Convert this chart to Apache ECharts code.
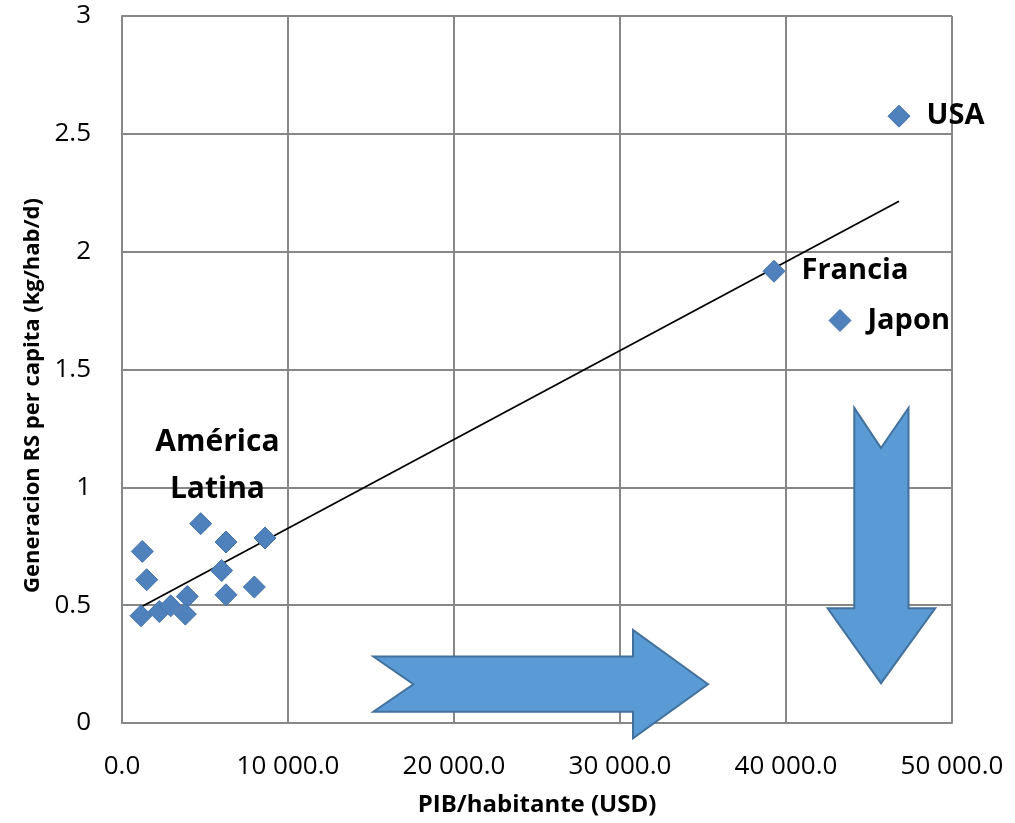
<!DOCTYPE html>
<html><head><meta charset="utf-8">
<script src="https://cdn.jsdelivr.net/npm/echarts@6/dist/echarts.min.js"></script>
<style>html,body{margin:0;padding:0;background:#fff}#c{width:1015px;height:823px}</style>
</head><body><div id="c"></div>
<script>
// GDP per capita (USD) and MSW generation (kg/hab/d)
const gdp = [1223, 1486, 1145, 2249, 2932, 3936, 3815, 4739, 6265, 6004, 6265, 7972, 8614, 46807, 39277, 43253];
const waste = [0.728, 0.608, 0.455, 0.473, 0.497, 0.537, 0.462, 0.846, 0.768, 0.647, 0.544, 0.577, 0.785, 2.575, 1.917, 1.708];
const countryLabels = ['', '', '', '', '', '', '', '', '', '', '', '', '', 'USA', 'Francia', 'Japon'];
const trendX = [1145, 46807];
const trendY = [0.492, 2.214];
const regionLabel = 'América\nLatina';
const regionPos = [5750, 1.09];
const xName = 'PIB/habitante (USD)';
const yName = 'Generacion RS per capita (kg/hab/d)';
// decorative arrows (data coordinates)
const rightArrow = [[15145,0.2817],[30783,0.2817],[30783,0.395],[35301,0.1644],[30783,-0.065],[30783,0.048],[15145,0.048],[17554,0.1644]];
const downArrow = [[44114,1.337],[45723,1.167],[47380,1.337],[47380,0.487],[48988,0.487],[45723,0.169],[42506,0.487],[44114,0.487]];

const FONT = 'Open Sans';
function fmtX(v){
  const s = v.toFixed(1);
  const parts = s.split('.');
  return parts[0].replace(/\B(?=(\d{3})+(?!\d))/g, ' ') + '.' + parts[1];
}
const pts = gdp.map((g,i)=>({value:[g, waste[i]], name: countryLabels[i]}));

const chart = echarts.init(document.getElementById('c'), null, {renderer:'canvas'});
const gridColor = '#878787';
chart.setOption({
  animation:false,
  backgroundColor:'#fff',
  grid:{left:122, right:63, top:16, bottom:100},
  xAxis:{
    type:'value', min:0, max:50000, interval:10000,
    axisLine:{lineStyle:{color:gridColor, width:2}},
    axisTick:{show:false},
    splitLine:{show:true, lineStyle:{color:gridColor, width:2}},
    axisLabel:{formatter:fmtX, fontFamily:FONT, fontSize:26, color:'#000', margin:31},
    name:xName, nameLocation:'middle', nameGap:70,
    nameTextStyle:{fontFamily:FONT, fontWeight:'bold', fontSize:24, color:'#000'}
  },
  yAxis:{
    type:'value', min:0, max:3, interval:0.5,
    axisLine:{show:true, lineStyle:{color:gridColor, width:2}},
    axisTick:{show:false},
    splitLine:{show:true, lineStyle:{color:gridColor, width:2}},
    axisLabel:{fontFamily:FONT, fontSize:26, color:'#000', margin:31},
    name:yName, nameLocation:'middle', nameGap:78,
    nameTextStyle:{fontFamily:FONT, fontWeight:'bold', fontSize:22, color:'#000', padding:[0,52,0,0]}
  },
  series:[
    {
      type:'line', data:trendX.map((x,i)=>[x, trendY[i]]), symbol:'none',
      lineStyle:{color:'#000', width:1.8}, z:3, silent:true
    },
    {
      type:'scatter', data:pts, symbol:'diamond', symbolSize:22,
      itemStyle:{color:'#4F81BD', borderColor:'#4472A8', borderWidth:1, opacity:1},
      label:{show:true, position:'right', distance:16, formatter:p=>p.name,
        fontFamily:FONT, fontWeight:'bold', fontSize:29, color:'#000'},
      z:4
    }
  ]
});

function poly(pointsData){
  return pointsData.map(p=>chart.convertToPixel({gridIndex:0}, p));
}
const rp = chart.convertToPixel({gridIndex:0}, regionPos);
chart.setOption({
  graphic:[
    {type:'polygon', shape:{points:poly(rightArrow)}, style:{fill:'#5B9BD5', stroke:'#41719C', lineWidth:2}, z:10},
    {type:'polygon', shape:{points:poly(downArrow)}, style:{fill:'#5B9BD5', stroke:'#41719C', lineWidth:2}, z:10},
    {type:'text', x:rp[0], y:rp[1], style:{text:regionLabel, fontFamily:FONT, fontWeight:'bold', fontSize:30, fill:'#000', align:'center', verticalAlign:'middle', lineHeight:47}, z:10}
  ]
});
</script></body></html>
